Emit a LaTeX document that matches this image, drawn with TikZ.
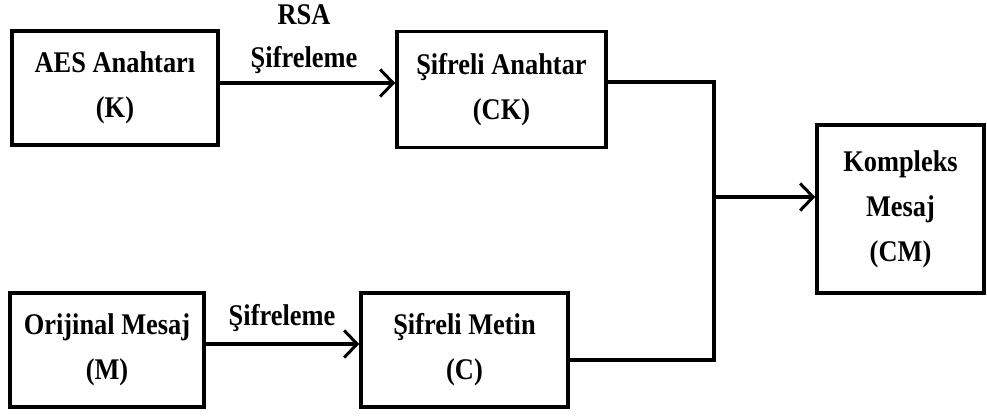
\documentclass[tikz,border=0pt]{standalone}
\usepackage{fontspec}
\setmainfont{Liberation Serif}[FakeStretch=0.88]
\usetikzlibrary{arrows.meta}
\begin{document}
\begin{tikzpicture}[x=1pt,y=-1pt,
  every node/.style={font=\fontsize{30}{45}\selectfont\bfseries},
  box/.style={draw,line width=3.5pt,rectangle,align=center,inner sep=0pt},
  link/.style={line width=3.5pt},
  arr/.style={link,-{Straight Barb[length=13pt,width=27pt,line width=3pt]}},
  lbl/.style={anchor=base,align=center,inner sep=0pt}]
  \useasboundingbox (0,0) rectangle (987,419);
  % boxes
  \node[box,minimum width=206pt,minimum height=114pt] (K) at (115,88) {AES Anahtarı\\(K)};
  \node[box,minimum width=209pt,minimum height=116pt] (CK) at (501.5,89.5) {Şifreli Anahtar\\(CK)};
  \node[box,minimum width=194pt,minimum height=114pt] (M) at (107,350) {Orijinal Mesaj\\(M)};
  \node[box,minimum width=207pt,minimum height=114pt] (C) at (464.5,350) {Şifreli Metin\\(C)};
  \node[box,minimum width=167pt,minimum height=168pt] (CM) at (900.5,209) {Kompleks\\Mesaj\\(CM)};
  % edge labels (base anchor sits on the last line)
  \node[lbl,font=\fontsize{30}{43}\selectfont\bfseries] (rsa) at (304,68) {RSA\\Şifreleme};
  \node[lbl] (enc) at (282,325) {Şifreleme};
  % connectors
  \coordinate (bus) at (714,197);
  \draw[arr] ([yshift=5pt]K.east) -- ([yshift=5pt]K.east -| CK.west);
  \draw[arr] ([yshift=6pt]M.east) -- ([yshift=6pt]M.east -| C.west);
  \draw[link] ([yshift=7.5pt]CK.east) -| (bus);
  \draw[link] ([yshift=-10pt]C.east) -| (bus);
  \draw[arr] (bus) -- (bus -| CM.west);
\end{tikzpicture}
\end{document}
